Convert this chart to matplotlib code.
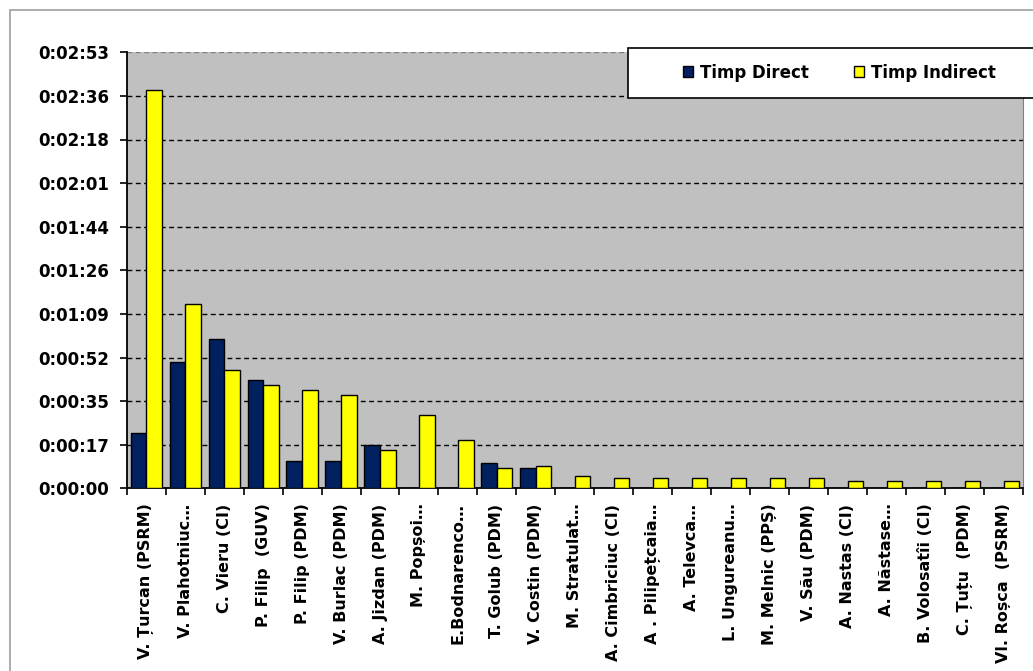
import matplotlib
matplotlib.use('Agg')
import matplotlib.pyplot as plt
from matplotlib.patches import Rectangle
import numpy as np

#######################################
# Data (seconds)
#######################################
names = ['V. Țurcan (PSRM)', 'V. Plahotniuc…', 'C. Vieru (CI)', 'P. Filip  (GUV)',
         'P. Filip (PDM)', 'V. Burlac (PDM)', 'A. Jizdan (PDM)', 'M. Popșoi…',
         'E.Bodnarenco…', 'T. Golub (PDM)', 'V. Costin (PDM)', 'M. Stratulat…',
         'A. Cimbriciuc (CI)', 'A . Pilipețcaia…', 'A. Televca…', 'L. Ungureanu…',
         'M. Melnic (PPȘ)', 'V. Său (PDM)', 'A. Nastas (CI)', 'A. Năstase…',
         'B. Volosatîi (CI)', 'C. Țuțu  (PDM)', 'Vl. Roșca  (PSRM)']
timp_direct = [22, 50, 59, 43, 11, 11, 17, 0, 0, 10, 8, 0,
               0, 0, 0, 0, 0, 0, 0, 0, 0, 0, 0]
timp_indirect = [158, 73, 47, 41, 39, 37, 15, 29, 19, 8, 9, 5,
                 4, 4, 4, 4, 4, 4, 3, 3, 3, 3, 3]
yticks_sec = [i * 17.28 for i in range(11)]  # Excel time steps


def fmt_time(s):
    s = int(round(s))
    return '%d:%02d:%02d' % (s // 3600, (s % 3600) // 60, s % 60)


#######################################
# Figure setup
#######################################
W, H = 1033, 671
fig = plt.figure(figsize=(W / 100, H / 100), dpi=100)
plt.rcParams['font.family'] = ['DejaVu Sans']
plt.rcParams['font.weight'] = 'bold'

# outer chart border (extends past image on right/bottom)
fig.patches.append(Rectangle((9.5 / W, -0.2), 1.2, 1.2 - 10 / H,
                             transform=fig.transFigure, fill=False,
                             edgecolor='#a6a6a6', lw=1.3, zorder=0))

ax = fig.add_axes([126.7 / W, 1 - 488.3 / H, (1023 - 126.7) / W, (488.3 - 52.3) / H])
ax.set_facecolor('#c0c0c0')

x = np.arange(len(names))
bw = 0.4
ax.bar(x - bw / 2, timp_direct, bw, color='#002060', edgecolor='black', lw=1.0,
       label='Timp Direct', zorder=3)
ax.bar(x + bw / 2, timp_indirect, bw, color='#ffff00', edgecolor='black', lw=1.0,
       label='Timp Indirect', zorder=3)

ax.set_xlim(-0.5, len(names) - 0.5)
ax.set_ylim(0, yticks_sec[-1])

# gridlines
for t in yticks_sec[1:-1]:
    ax.axhline(t, color='black', ls=(0, (3.5, 2.5)), lw=1.0, zorder=1)
ax.axhline(yticks_sec[-1], color='#808080', ls=(0, (3.5, 2.5)), lw=1.0, zorder=1)

# y axis
ax.set_yticks(yticks_sec)
ax.set_yticklabels([fmt_time(t) for t in yticks_sec], fontsize=12, fontweight='bold')
ax.tick_params(axis='y', length=5, width=1.2, pad=7.5, direction='out')

# x axis: labels at centers, ticks at category boundaries
ax.set_xticks(x)
ax.set_xticklabels(names, rotation=90, fontsize=11.5, fontweight='bold', va='top')
ax.tick_params(axis='x', which='major', length=0, pad=11)
ax.set_xticks(np.arange(-0.5, len(names)), minor=True)
ax.tick_params(axis='x', which='minor', length=5, width=1.2, direction='out')

ax.spines['top'].set_visible(False)
ax.spines['right'].set_color('#808080')
ax.spines['left'].set_linewidth(1.3)
ax.spines['bottom'].set_linewidth(1.3)

# legend box (cut by image edge like the reference)
fig.patches.append(Rectangle((628 / W, 1 - 98 / H), 0.5, 50.3 / H,
                             transform=fig.transFigure, facecolor='white',
                             edgecolor='black', lw=1.2, zorder=5))
leg = fig.legend(loc='center left', bbox_to_anchor=(675 / W, 1 - 72.5 / H), ncol=2,
                 frameon=False, fontsize=12, handlelength=0.6, handleheight=0.6,
                 handletextpad=0.4, columnspacing=2.7, borderpad=0)
leg.set_zorder(6)
for t in leg.get_texts():
    t.set_fontweight('bold')

plt.savefig('out.png', dpi=100)
